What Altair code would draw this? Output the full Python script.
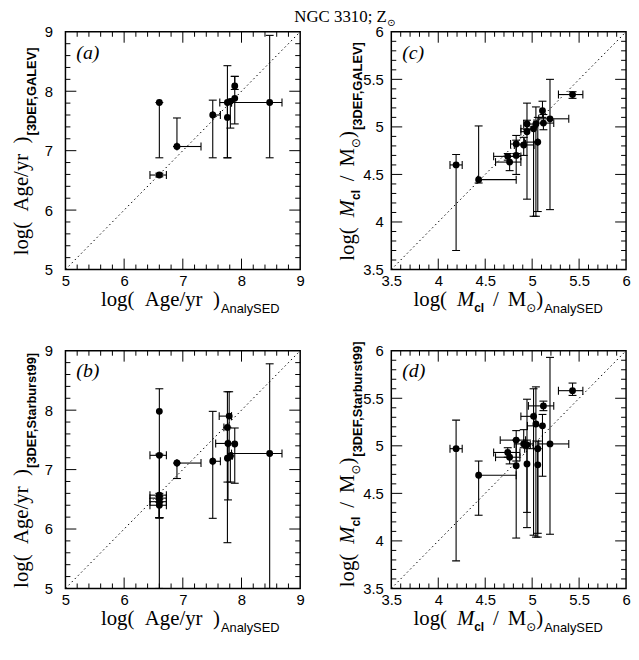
import altair as alt
import pandas as pd

W, H = 237, 240

# ---------------- data ----------------
# panel (a): log Age, AnalySED vs 3DEF GALEV
a_x   = [6.60, 6.60, 6.90, 7.51, 7.76, 7.76, 7.81, 7.885, 7.885, 8.48]
a_y   = [7.81, 6.59, 7.07, 7.60, 7.81, 7.56, 7.83, 7.88, 8.09, 7.81]
a_xlo = [6.60, 6.44, 6.90, 7.51, 7.63, 7.76, 7.81, 7.885, 7.885, 7.83]
a_xhi = [6.60, 6.72, 7.31, 7.64, 7.83, 7.76, 7.81, 7.885, 7.885, 8.69]
a_ylo = [6.88, 6.56, 7.07, 6.88, 6.88, 6.88, 7.38, 7.45, 8.03, 6.88]
a_yhi = [7.81, 6.62, 7.55, 7.85, 8.43, 7.81, 7.83, 8.25, 8.25, 8.94]

# panel (b): log Age, AnalySED vs 3DEF Starburst99
b_x   = [6.60, 6.60, 6.60, 6.60, 6.60, 6.60, 6.90, 7.51, 7.79, 7.76, 7.77, 7.76, 7.81, 7.885, 8.48]
b_y   = [7.98, 7.24, 6.57, 6.52, 6.46, 6.40, 7.11, 7.14, 7.90, 7.71, 7.44, 7.19, 7.23, 7.43, 7.27]
b_xlo = [6.60, 6.44, 6.44, 6.44, 6.44, 6.44, 6.90, 7.51, 7.62, 7.70, 7.56, 7.76, 7.81, 7.885, 7.83]
b_xhi = [6.60, 6.72, 6.72, 6.72, 6.72, 6.72, 7.31, 7.64, 7.83, 7.76, 7.77, 7.76, 7.84, 7.885, 8.69]
b_ylo = [5.00, 6.19, 6.19, 6.19, 6.19, 6.19, 6.85, 6.18, 7.19, 6.79, 6.49, 5.77, 6.79, 6.77, 5.00]
b_yhi = [8.36, 7.26, 6.60, 6.55, 6.50, 6.45, 7.11, 7.98, 8.31, 7.71, 7.44, 8.31, 7.23, 7.70, 8.78]

# panel (c): log Mass, AnalySED vs 3DEF GALEV
c_x   = [4.19, 4.43, 4.74, 4.76, 4.83, 4.83, 4.91, 4.945, 4.945, 5.015, 5.04, 5.06, 5.11, 5.12, 5.19, 5.43]
c_y   = [4.60, 4.445, 4.69, 4.63, 4.70, 4.82, 4.81, 4.95, 5.03, 4.98, 5.03, 4.84, 5.17, 5.04, 5.085, 5.34]
c_xlo = [4.125, 4.42, 4.59, 4.61, 4.83, 4.77, 4.81, 4.88, 4.91, 4.88, 5.04, 4.92, 5.11, 5.02, 5.07, 5.28]
c_xhi = [4.255, 4.83, 4.88, 4.88, 4.83, 4.93, 5.02, 4.945, 5.05, 5.015, 5.04, 5.06, 5.11, 5.23, 5.39, 5.54]
c_ylo = [3.70, 4.41, 4.65, 4.54, 4.50, 4.72, 4.70, 4.24, 4.97, 4.06, 4.06, 4.11, 5.10, 4.97, 4.13, 5.30]
c_yhi = [4.71, 5.01, 4.72, 4.69, 4.86, 4.91, 4.89, 5.25, 5.07, 5.00, 5.21, 5.10, 5.27, 5.13, 5.50, 5.37]

# panel (d): log Mass, AnalySED vs 3DEF Starburst99
d_x   = [4.19, 4.43, 4.74, 4.76, 4.83, 4.83, 4.91, 4.945, 4.945, 5.015, 5.04, 5.06, 5.06, 5.11, 5.12, 5.19, 5.43]
d_y   = [4.97, 4.69, 4.93, 4.88, 5.06, 4.79, 5.02, 5.01, 4.81, 5.31, 5.23, 4.97, 4.80, 5.21, 5.42, 5.02, 5.58]
d_xlo = [4.125, 4.43, 4.59, 4.61, 4.66, 4.83, 4.81, 4.91, 4.945, 4.88, 5.04, 4.92, 5.06, 4.95, 4.96, 5.07, 5.28]
d_xhi = [4.255, 4.83, 4.87, 4.87, 4.93, 4.83, 5.01, 4.98, 4.945, 5.03, 5.04, 5.06, 5.06, 5.11, 5.23, 5.39, 5.54]
d_ylo = [3.79, 4.27, 4.88, 4.81, 4.84, 4.03, 4.98, 4.30, 4.14, 4.06, 4.04, 4.04, 4.08, 4.68, 5.37, 4.07, 5.53]
d_yhi = [5.27, 4.84, 4.98, 4.93, 5.16, 5.06, 5.17, 5.49, 5.06, 5.60, 5.62, 5.05, 4.97, 5.33, 5.47, 5.93, 5.66]

age_major = [5, 6, 7, 8, 9]
age_minor = [5.2, 5.4, 5.6, 5.8, 6.2, 6.4, 6.6, 6.8, 7.2, 7.4, 7.6, 7.8, 8.2, 8.4, 8.6, 8.8]
mass_major = [3.5, 4, 4.5, 5, 5.5, 6]
mass_minor = [3.6, 3.7, 3.8, 3.9, 4.1, 4.2, 4.3, 4.4, 4.6, 4.7, 4.8, 4.9,
              5.1, 5.2, 5.3, 5.4, 5.6, 5.7, 5.8, 5.9]

# ---------------- text helpers ----------------
SERIF = "Liberation Serif"
SANS = "Liberation Sans"
SYM = "DejaVu Sans"
NB = "\u00a0"

TIMES = {' ': 250, NB: 250, '(': 333, ')': 333, '/': 278, 'A': 722, 'M': 889, 'N': 722, 'G': 722,
         'C': 667, 'Z': 611, 'g': 500, 'e': 444, 'l': 278, 'o': 500, 'r': 333, 'y': 500, ';': 278}
HELV = {'A': 667, 'n': 556, 'a': 556, 'l': 222, 'y': 500, 'S': 667, 'E': 667, 'D': 722,
        'c': 500, '[': 278, ']': 278, 'F': 611, ',': 278, 'G': 778, 'L': 556, 'V': 667,
        't': 278, 'r': 333, 'b': 556, 'u': 556, 's': 500}
HELVB = {'[': 333, ']': 333, 'D': 722, 'E': 667, 'F': 611, ',': 278, 'G': 778, 'A': 722,
         'L': 611, 'V': 667, 'S': 667, 't': 333, 'a': 556, 'r': 389, 'b': 611, 'u': 611,
         's': 556, 'c': 556, 'l': 278}


def tw(text, font, size, weight="normal", style="normal"):
    if font == SYM:
        return 0.84 * size * len(text)
    if font == SERIF:
        if style == "italic" and text == "M":
            return 0.833 * size
        return sum(TIMES.get(ch, 500) for ch in text) / 1000 * size
    tbl = HELVB if weight == "bold" else HELV
    return sum(tbl.get(ch, 556) for ch in text) / 1000 * size


def text_layer(text, x, y, font, size, weight="normal", style="normal", angle=0):
    return alt.Chart(pd.DataFrame({"t": [text]})).mark_text(
        font=font, fontSize=size, fontWeight=weight, fontStyle=style, angle=angle,
        align="left", baseline="alphabetic", color="black"
    ).encode(text="t:N", x=alt.value(x), y=alt.value(y))


def title_layers(pieces, center, base, angle=0):
    # piece: (text, font, size, weight, style, dy, gap_before)
    widths = [tw(p[0], p[1], p[2], p[3], p[4]) + p[6] for p in pieces]
    pos = -sum(widths) / 2
    out = []
    for p, w in zip(pieces, widths):
        txt, font, size, weight, style, dy, gap = p
        s = pos + gap
        if angle == 0:
            x, y = center + s, base + dy
        else:
            x, y = base + dy, center - s
        out.append(text_layer(txt, x, y, font, size, weight, style, angle))
        pos += w
    return out


MAIN = 21
SUB = 12
age_title = [("log(" + NB + NB + "Age/yr" + NB + NB + ")", SERIF, MAIN, "normal", "normal", 0, 0)]
mass_title = [("log(", SERIF, MAIN, "normal", "normal", 0, 0),
              ("M", SERIF, MAIN, "normal", "italic", 0, 10),
              ("cl", SANS, SUB, "bold", "normal", 6, 0),
              ("/", SERIF, MAIN, "normal", "normal", 0, 9),
              ("M", SERIF, MAIN, "normal", "normal", 0, 9),
              ("⊙", SYM, SUB, "normal", "normal", 6, 0),
              (")", SERIF, MAIN, "normal", "normal", 0, 0)]
sub_ana = [("AnalySED", SANS, 13, "normal", "normal", 7, 1)]
sub_galev = [("[3DEF,GALEV]", SANS, 13, "bold", "normal", 8, 1)]
sub_sb99 = [("[3DEF,Starburst99]", SANS, 13, "bold", "normal", 8, 1)]


def panel(x, y, xlo, xhi, ylo, yhi, lo, hi, major, minor, lab, xt, yt,
          xt_center, yt_center, ylabpad, extra=None):
    df = pd.DataFrame(dict(x=x, y=y, xlo=xlo, xhi=xhi, ylo=ylo, yhi=yhi))
    sc = alt.Scale(domain=[lo, hi], nice=False, zero=False)
    common = dict(values=major, ticks=False, domain=False, grid=False, labelFont=SANS,
                  labelFontSize=15, labelColor="black", title=None, format="~g",
                  labelFlush=False)
    xaxis = alt.Axis(labelPadding=4, **common)
    yaxis = alt.Axis(labelPadding=ylabpad, **common)

    def X(f):
        return alt.X(f, type="quantitative", scale=sc, axis=xaxis)

    def Y(f):
        return alt.Y(f, type="quantitative", scale=sc, axis=yaxis)

    layers = []
    layers.append(alt.Chart(pd.DataFrame({"a": [lo, hi]})).mark_line(
        color="black", strokeDash=[1.5, 3], strokeWidth=1).encode(x=X("a"), y=Y("a")))

    vb = df[df.ylo < df.yhi]
    hb = df[df.xlo < df.xhi]
    layers.append(alt.Chart(vb).mark_rule(color="black", strokeWidth=1.1).encode(
        x=X("x"), y=Y("ylo"), y2=alt.Y2("yhi")))
    layers.append(alt.Chart(hb).mark_rule(color="black", strokeWidth=1.1).encode(
        x=X("xlo"), x2=alt.X2("xhi"), y=Y("y")))
    vcaps = pd.DataFrame({"cx": list(vb.x) + list(vb.x), "cy": list(vb.ylo) + list(vb.yhi)})
    hcaps = pd.DataFrame({"cx": list(hb.xlo) + list(hb.xhi), "cy": list(hb.y) + list(hb.y)})
    layers.append(alt.Chart(vcaps).mark_tick(orient="horizontal", size=8, thickness=1.1,
                                              color="black", opacity=1).encode(x=X("cx"), y=Y("cy")))
    layers.append(alt.Chart(hcaps).mark_tick(orient="vertical", size=8, thickness=1.1,
                                              color="black", opacity=1).encode(x=X("cx"), y=Y("cy")))
    layers.append(alt.Chart(df).mark_circle(size=48, color="black", opacity=1).encode(
        x=X("x"), y=Y("y")))

    for vals, L in ((major[1:-1], 11), (minor, 5)):
        d = pd.DataFrame({"v": vals})
        layers.append(alt.Chart(d).mark_rule(color="black", strokeWidth=1).encode(
            x=X("v"), y=alt.value(H), y2=alt.value(H - L)))
        layers.append(alt.Chart(d).mark_rule(color="black", strokeWidth=1).encode(
            x=X("v"), y=alt.value(0), y2=alt.value(L)))
        layers.append(alt.Chart(d).mark_rule(color="black", strokeWidth=1).encode(
            y=Y("v"), x=alt.value(0), x2=alt.value(L)))
        layers.append(alt.Chart(d).mark_rule(color="black", strokeWidth=1).encode(
            y=Y("v"), x=alt.value(W), x2=alt.value(W - L)))

    layers.append(text_layer(lab, 11, 27, SERIF, 20, style="italic"))
    layers += title_layers(xt, xt_center, H + 37, 0)
    layers += title_layers(yt, yt_center, -38, 270)
    if extra:
        layers += extra
    return alt.layer(*layers).properties(width=W, height=H)


main_title = title_layers([("NGC 3310; Z", SERIF, 17, "normal", "normal", 0, 0),
                           ("⊙", SYM, 10, "normal", "normal", 4, 0)], 282, -10, 0)

pa = panel(a_x, a_y, a_xlo, a_xhi, a_ylo, a_yhi, 5, 9, age_major, age_minor, "(a)",
           age_title + sub_ana, age_title + sub_galev, 126, H / 2, 13, extra=main_title)
pb = panel(b_x, b_y, b_xlo, b_xhi, b_ylo, b_yhi, 5, 9, age_major, age_minor, "(b)",
           age_title + sub_ana, age_title + sub_sb99, 126, H / 2, 13)
pc = panel(c_x, c_y, c_xlo, c_xhi, c_ylo, c_yhi, 3.5, 6, mass_major, mass_minor, "(c)",
           mass_title + sub_ana, mass_title + sub_galev, 118, H / 2, 8)
pd_ = panel(d_x, d_y, d_xlo, d_xhi, d_ylo, d_yhi, 3.5, 6, mass_major, mass_minor, "(d)",
            mass_title + sub_ana, mass_title + sub_sb99, 118, H / 2 - 6, 8)

chart = alt.concat(
    pa, pc, pb, pd_, columns=2,
    spacing={"row": 82, "column": 92}, bounds="flush",
).properties(
    padding={"left": 2, "top": -4, "right": 0, "bottom": 0},
    background="white",
).configure_view(stroke="black", strokeWidth=1.5)

chart.save("out.html", embed_options={"renderer": "svg", "actions": False})
